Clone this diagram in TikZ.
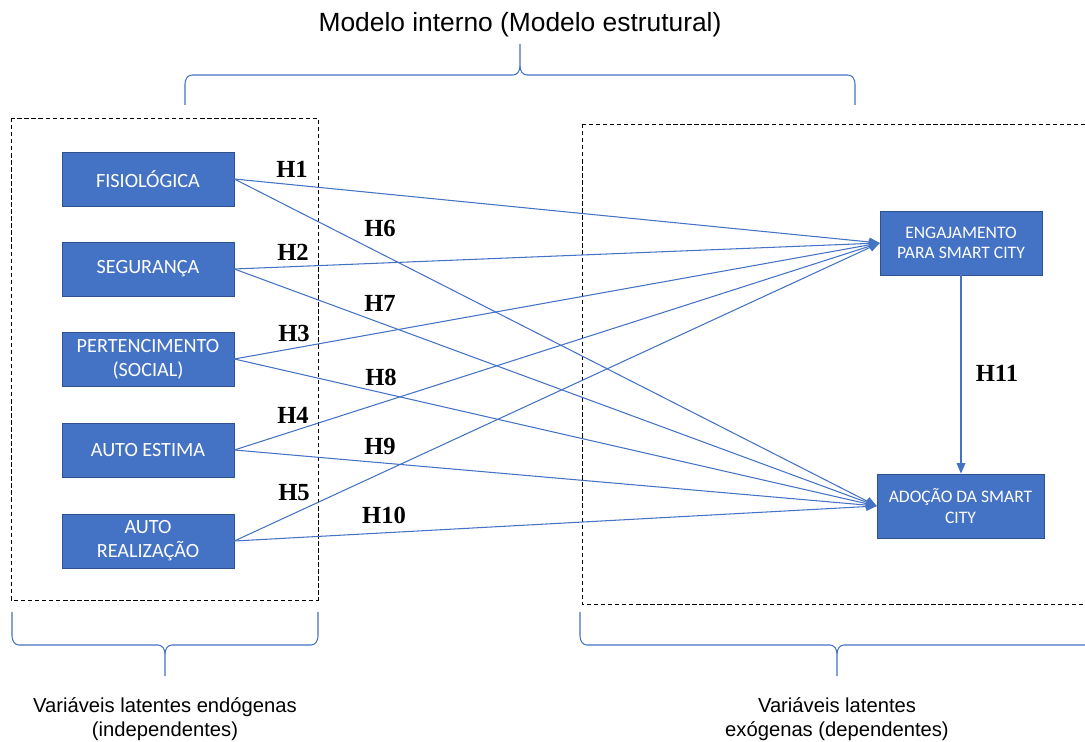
\documentclass[tikz,border=0pt]{standalone}
\usepackage{fontspec}
\setmainfont{Liberation Sans}
\newfontfamily\boxfont{Carlito}
\newfontfamily\hipfont{Liberation Serif}
\definecolor{officeblue}{HTML}{4472C4}
\definecolor{officeedge}{HTML}{2F528F}
\usetikzlibrary{positioning,arrows.meta}

\begin{document}
\begin{tikzpicture}[x=0.02cm,y=-0.02cm,
    latente/.style={draw=officeedge,fill=officeblue,text=white,align=center,inner sep=0pt,
        font=\boxfont\fontsize{11.5}{13.6}\selectfont,minimum width=3.44cm,minimum height=1.08cm},
    resultado/.style={latente,font=\boxfont\fontsize{10}{11.5}\selectfont,minimum height=1.28cm},
    hip/.style={font=\hipfont\bfseries\fontsize{14}{16}\selectfont,inner sep=0pt},
    seta/.style={-{Triangle[length=6pt,width=5pt]},officeblue,line width=0.6pt},
    chave/.style={officeblue,line width=0.6pt},
    caixa/.style={draw,dash pattern=on 2.5pt off 1.5pt,line width=0.5pt}]
    \useasboundingbox (0,0) rectangle (1085,742);
    \clip (0,0) rectangle (1085,742);

    % titles
    \node[font=\fontsize{15}{18}\selectfont] (titulo) at (520,25) {Modelo interno (Modelo estrutural)};
    \node[align=center,font=\fontsize{11.5}{13.6}\selectfont] (endog) at (165,719) {Variáveis latentes endógenas\\(independentes)};
    \node[align=center,font=\fontsize{11.5}{13.6}\selectfont] (exog) at (837,719) {Variáveis latentes\\exógenas (dependentes)};

    % braces
    \draw[chave] (185,105) -- (185,84) to[out=90,in=180] (192,75) -- (513,75) to[out=0,in=-90] (520,66) -- (520,44);
    \draw[chave] (855,105) -- (855,84) to[out=90,in=0] (848,75) -- (527,75) to[out=180,in=-90] (520,66);
    \draw[chave] (12,612) -- (12,636) to[out=-90,in=180] (19,645) -- (158,645) to[out=0,in=90] (165,654) -- (165,676);
    \draw[chave] (318,612) -- (318,636) to[out=-90,in=0] (311,645) -- (172,645) to[out=180,in=90] (165,654);
    \draw[chave] (580,612) -- (580,636) to[out=-90,in=180] (587,645) -- (830,645) to[out=0,in=90] (837,654) -- (837,676);
    \draw[chave] (1100,645) -- (844,645) to[out=180,in=90] (837,654);

    % dashed groups
    \draw[caixa] (11,118) rectangle (318,600);
    \draw[caixa] (582,124) rectangle (1095,604);

    % latent variables
    \node[latente] (fisio) at (148,179) {FISIOLÓGICA};
    \node[latente] (seguranca) at (148,269) {SEGURANÇA};
    \node[latente] (pertenc) at (148,359) {PERTENCIMENTO\\(SOCIAL)};
    \node[latente] (estima) at (148,450) {AUTO ESTIMA};
    \node[latente] (realiz) at (148,541) {AUTO\\REALIZAÇÃO};

    \node[resultado,minimum width=3.24cm] (engaj) at (961,243) {ENGAJAMENTO\\PARA SMART CITY};
    \node[resultado,minimum width=3.34cm] (adocao) at (960.5,506) {ADOÇÃO DA SMART\\CITY};

    % hypotheses
    \draw[seta] (fisio.east) -- (engaj.west);
    \draw[seta] (seguranca.east) -- (engaj.west);
    \draw[seta] (pertenc.east) -- (engaj.west);
    \draw[seta] (estima.east) -- (engaj.west);
    \draw[seta] (realiz.east) -- (engaj.west);
    \draw[seta] (fisio.east) -- (adocao.west);
    \draw[seta] (seguranca.east) -- (adocao.west);
    \draw[seta] (pertenc.east) -- (adocao.west);
    \draw[seta] (estima.east) -- (adocao.west);
    \draw[seta] (realiz.east) -- (adocao.west);
    \draw[seta] (engaj.south) -- (engaj.south |- adocao.north);

    \node[hip] (h1) at (292,169) {H1};
    \node[hip] (h2) at (293,252) {H2};
    \node[hip] (h3) at (294,333) {H3};
    \node[hip] (h4) at (293,415) {H4};
    \node[hip] (h5) at (294,493) {H5};
    \node[hip] (h6) at (380,228) {H6};
    \node[hip] (h7) at (380,303) {H7};
    \node[hip] (h8) at (381,377) {H8};
    \node[hip] (h9) at (380,446) {H9};
    \node[hip] (h10) at (384,515) {H10};
    \node[hip] (h11) at (997,373) {H11};
\end{tikzpicture}
\end{document}
